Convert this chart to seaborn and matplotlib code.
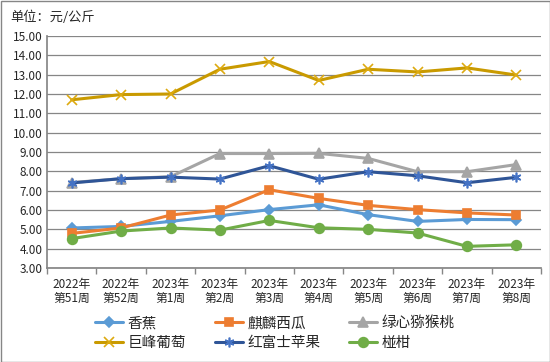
import pandas as pd
import seaborn as sns
import matplotlib.pyplot as plt
from matplotlib.patches import Rectangle

weeks = ["2022年\n第51周", "2022年\n第52周", "2023年\n第1周", "2023年\n第2周", "2023年\n第3周",
         "2023年\n第4周", "2023年\n第5周", "2023年\n第6周", "2023年\n第7周", "2023年\n第8周"]

banana = [5.07, 5.15, 5.41, 5.70, 6.02, 6.27, 5.76, 5.41, 5.51, 5.50]
watermelon = [4.79, 5.07, 5.74, 6.00, 7.05, 6.60, 6.24, 6.02, 5.85, 5.74]
kiwi = [7.42, 7.62, 7.72, 8.92, 8.92, 8.93, 8.67, 7.98, 7.98, 8.35]
grape = [11.70, 11.97, 12.00, 13.28, 13.68, 12.70, 13.28, 13.14, 13.35, 12.98]
apple = [7.40, 7.62, 7.70, 7.60, 8.29, 7.59, 7.98, 7.77, 7.41, 7.69]
tangerine = [4.52, 4.91, 5.07, 4.96, 5.46, 5.08, 5.00, 4.81, 4.12, 4.20]

names = ["香蕉", "麒麟西瓜", "绿心猕猴桃", "巨峰葡萄", "红富士苹果", "椪柑"]
series = [banana, watermelon, kiwi, grape, apple, tangerine]
colors = ["#5B9BD5", "#ED7D31", "#A5A5A5", "#C99A00", "#2F5597", "#70AD47"]
markers = ["D", "s", "^", "x", (6, 2, 0), "o"]
edge = ["#5B9BD5", "#ED7D31", "#A5A5A5", "#DDAA10", "#4472C4", "#70AD47"]
msize = [5.5, 5.5, 6.5, 7, 7, 7]

sns.set_theme(style="white")
plt.rcParams['font.family'] = ['Noto Sans CJK SC', 'DejaVu Sans']

fig = plt.figure(figsize=(5.5, 3.62), dpi=100)
ax = fig.add_axes([47 / 550, 1 - 268 / 362, (541 - 47) / 550, (268 - 36) / 362])

handles = []
for n, vals, c, m, ec, ms in zip(names, series, colors, markers, edge, msize):
    d = pd.DataFrame({"week": range(len(vals)), "price": vals})
    sns.lineplot(data=d, x="week", y="price", color=c, marker=m, markersize=ms,
                 markeredgecolor=ec, markeredgewidth=1.2, linewidth=2.2, ax=ax)
    handles.append(ax.lines[-1])

ax.set_ylim(3, 15)
ax.set_yticks([3 + i for i in range(13)])
ax.set_yticklabels([f"{3 + i:.2f}" for i in range(13)], fontsize=8.5)
ax.set_xlim(-0.5, 9.5)
ax.set_xticks(range(10))
ax.set_xticklabels(weeks, fontsize=8.5, linespacing=1.15)
ax.set_xticks([i - 0.5 for i in range(11)], minor=True)
ax.tick_params(axis="x", which="major", length=0, pad=7)
ax.tick_params(axis="x", which="minor", length=4, color="#868686", direction="out", bottom=True)
ax.tick_params(axis="y", length=0, pad=3)
ax.grid(axis="y", color="#868686", linewidth=0.9)
ax.set_axisbelow(True)
for s in ["top", "right"]:
    ax.spines[s].set_visible(False)
ax.spines["left"].set_color("#868686")
ax.spines["bottom"].set_color("#868686")
ax.set_xlabel("")
ax.set_ylabel("")

fig.text(10 / 550, 1 - 17 / 362, "单位：元/公斤", fontsize=9.5, va="center", ha="left")

order = [0, 3, 1, 4, 2, 5]
fig.legend([handles[i] for i in order], [names[i] for i in order],
           loc="center", bbox_to_anchor=(0.5, 1 - 333 / 362), ncol=3,
           frameon=False, fontsize=10.5, handlelength=1.9, columnspacing=2.0,
           labelspacing=0.4, handletextpad=0.3)

fig.patches.append(Rectangle((0.5 / 550, 0.5 / 362), 549 / 550, 361 / 362,
                             transform=fig.transFigure, fill=False,
                             edgecolor="#868686", linewidth=1))

fig.savefig("out.png", dpi=100)
